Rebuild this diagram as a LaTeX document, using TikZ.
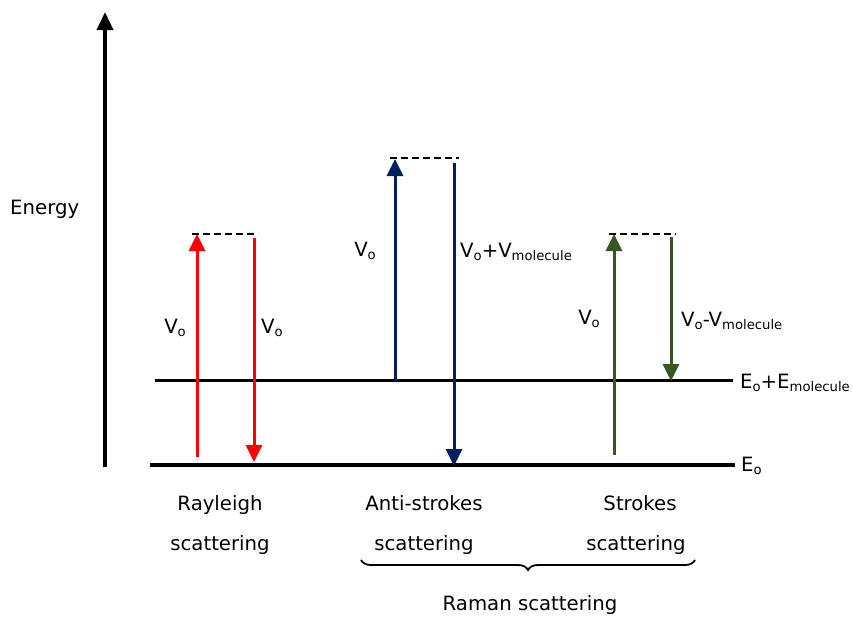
\documentclass[tikz,border=0pt]{standalone}
\usepackage{fontspec}
\setmainfont{DejaVu Sans}
\usetikzlibrary{arrows.meta,decorations.pathreplacing}
\definecolor{rayred}{RGB}{255,0,0}
\definecolor{antiblue}{RGB}{0,32,96}
\definecolor{stokesgreen}{RGB}{56,87,35}
\newcommand{\lowsub}[1]{\raisebox{-3pt}{\fontsize{13.2}{14}\selectfont #1}}
\begin{document}
\begin{tikzpicture}[x=1pt,y=-1pt,
  lbl/.style={font=\fontsize{19.7}{21}\selectfont, inner sep=0pt},
  trans/.style={line width=3pt,-{Triangle[length=17pt,width=16pt]}},
  virt/.style={line width=2.2pt,dash pattern=on 7pt off 4pt},
  level/.style={line width=3pt}]
\useasboundingbox (0,0) rectangle (853,616);

% energy axis
\coordinate (axb) at (105,467);
\coordinate (axt) at (105,12);
\draw[line width=3.6pt,-{Triangle[length=18pt,width=16pt]}] (axb) -- (axt);
\node[lbl,anchor=base west] (energy) at (10,214) {Energy};

% energy levels
\coordinate (g0) at (150,465);
\coordinate (g1) at (735,465);
\coordinate (m0) at (155,380);
\coordinate (m1) at (733,380);
\draw[line width=4.5pt] (g0) -- (g1);
\draw[level] (m0) -- (m1);
\node[lbl,anchor=base west] (eo) at (741,471) {E\lowsub{o}};
\node[lbl,anchor=base west] (eom) at (740,388) {E\lowsub{o}+E\lowsub{molecule}};

% Rayleigh scattering
\coordinate (r1b) at (197,457);
\coordinate (r1t) at (197,234);
\coordinate (r2b) at (254,462);
\coordinate (r2t) at (254,238);
\coordinate (rv0) at (192,234);
\coordinate (rv1) at (258,234);
\draw[virt] (rv0) -- (rv1);
\draw[trans,rayred] (r1b) -- (r1t);
\draw[trans,rayred] (r2t) -- (r2b);
\node[lbl,anchor=base east] (rvo1) at (186,333) {V\lowsub{o}};
\node[lbl,anchor=base west] (rvo2) at (261,333) {V\lowsub{o}};

% anti-Stokes scattering
\coordinate (a1b) at (395,381);
\coordinate (a1t) at (395,159);
\coordinate (a2t) at (454,163);
\coordinate (a2b) at (454,466);
\coordinate (av0) at (390,158);
\coordinate (av1) at (459,158);
\draw[virt] (av0) -- (av1);
\draw[trans,antiblue] (a1b) -- (a1t);
\draw[trans,antiblue] (a2t) -- (a2b);
\node[lbl,anchor=base east] (avo1) at (376,256) {V\lowsub{o}};
\node[lbl,anchor=base west] (avo2) at (460,257) {V\lowsub{o}+V\lowsub{molecule}};

% Stokes scattering
\coordinate (s1b) at (614,455);
\coordinate (s1t) at (614,234);
\coordinate (s2t) at (671,237);
\coordinate (s2b) at (671,381);
\coordinate (sv0) at (609,234);
\coordinate (sv1) at (676,234);
\draw[virt] (sv0) -- (sv1);
\draw[trans,stokesgreen] (s1b) -- (s1t);
\draw[trans,stokesgreen] (s2t) -- (s2b);
\node[lbl,anchor=base east] (svo1) at (600,324) {V\lowsub{o}};
\node[lbl,anchor=base west] (svo2) at (681,326) {V\lowsub{o}-V\lowsub{molecule}};

% process labels
\node[lbl,anchor=base] (ray) at (220,510) {Rayleigh};
\node[lbl,anchor=base] (rays) at (220,550) {scattering};
\node[lbl,anchor=base] (anti) at (424,510) {Anti-strokes};
\node[lbl,anchor=base] (antis) at (424,550) {scattering};
\node[lbl,anchor=base] (stk) at (640,510) {Strokes};
\node[lbl,anchor=base] (stks) at (636,550) {scattering};

% Raman brace
\coordinate (br0) at (361,560);
\coordinate (br1) at (695,560);
\draw[line width=1.8pt,decorate,
  decoration={brace,amplitude=10pt,mirror}] (br0) -- (br1);
\node[lbl,anchor=base] (raman) at (530,610) {Raman scattering};
\end{tikzpicture}
\end{document}
